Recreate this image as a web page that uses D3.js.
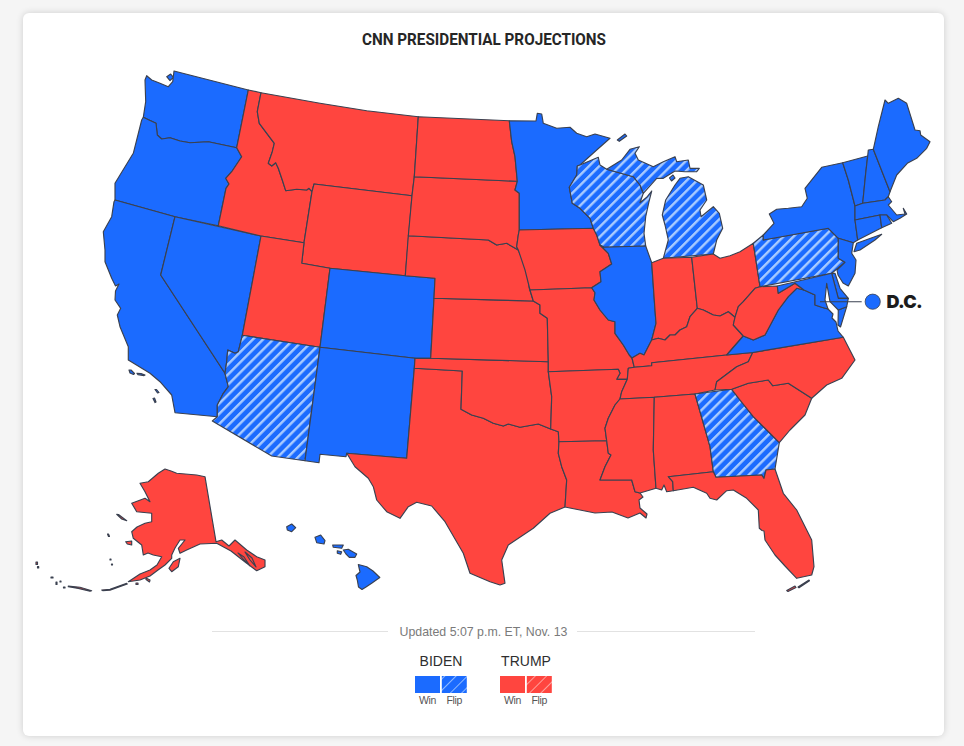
<!DOCTYPE html>
<html><head><meta charset="utf-8"><title>CNN Presidential Projections</title>
<script src="https://cdn.jsdelivr.net/npm/d3@7"></script>
<style>
html,body{margin:0;padding:0;background:#f5f5f5;width:964px;height:746px;overflow:hidden}
#card{position:absolute;left:23px;top:13px;width:921px;height:723px;background:#fff;border-radius:6px;box-shadow:0 0 7px rgba(0,0,0,.16)}
svg{position:absolute;left:0;top:0}
</style></head><body><div id="card"></div><svg id="map" width="964" height="746"></svg>
<script>
const stateNames=["WA","OR","CA","NV","ID","MT","WY","UT","AZ","CO","NM","TX","OK","KS","NE","SD","ND","MN","IA","MO","AR","LA","WI","IL","MI","IN","OH","KY","TN","MS","AL","GA","FL","SC","NC","VA","WV","PA","NY","VT","NH","ME","MA","CT","RI","NJ","DE","MD","AK","HI"];
const winners=["B","B","B","B","T","T","T","T","B","B","B","T","T","T","T","T","T","B","T","T","T","T","B","B","B","T","T","T","T","T","T","B","T","T","T","B","T","B","B","B","B","B","B","B","B","B","B","B","T","B"];
const flippedStates=["AZ","WI","MI","GA","PA"];
const outlines={
WA:[[[146.7,75.7],[145,80],[145.7,101.7],[143.3,117.3],[149,120],[156,123.3],[157.3,135],[161.7,139],[170,137.7],[180,141],[190,142.7],[208.3,141.7],[236.7,147.7],[248.3,90],[174,71],[172.7,81.7],[168.3,86.7],[160,83.3],[151.7,80]],[[166.7,76.7],[170.7,74],[173.3,77.3],[170,80.7]]],
OR:[[[143.3,117.3],[141.7,120],[133.3,153.3],[120,175],[115,183.3],[115,200],[175,216.7],[218.3,225.7],[226,188.3],[229,184],[225.7,178.3],[231.7,171.7],[241.7,156.7],[236.7,147.7],[208.3,141.7],[190,142.7],[180,141],[170,137.7],[161.7,139],[157.3,135],[156,123.3],[149,120]]],
CA:[[[115,200],[175,216.7],[160.7,275],[225,373.3],[228.3,386.7],[223.3,393.3],[217.3,405],[217.3,416.7],[175,412.7],[171.7,395],[160,381.7],[150,373.3],[128.3,360],[128.3,346.7],[120,326.7],[117.3,315],[120.7,308.3],[115,300],[115.5,291],[119,284],[115.5,286],[111.7,278.3],[105,261.7],[105,250],[103.3,231.7],[111.7,216.7],[114,201.7]],[[129,370],[131,370],[134.5,373.5],[133.5,374.5],[130,373]],[[137,373.3],[141,373.5],[145,375],[144,375.6],[138,374.6]],[[155,389.5],[156.5,389.5],[159,392.5],[157.5,393]],[[153,398.5],[154.5,398],[156,402],[155,402.6]]],
NV:[[[175,216.7],[261,236],[242.3,335.3],[238.3,351.7],[235,353.3],[227.7,350],[226.7,361.7],[225,373.3],[160.7,275]]],
ID:[[[248.3,90],[261,92.7],[257.3,111.7],[259.3,123.3],[274.3,143.3],[272.3,151.7],[268.3,163.3],[271.7,166],[275.7,162.7],[278.3,168.3],[282.3,180],[285.7,190.7],[296.7,189.3],[306.7,190],[309,188.3],[312,191.7],[304,242.7],[261,236],[218.3,225.7],[226,188.3],[229,184],[225.7,178.3],[231.7,171.7],[241.7,156.7],[236.7,147.7]]],
MT:[[[261,92.7],[320,103.3],[366.7,110.7],[418.3,116.7],[414.3,176.7],[412,195.7],[314,184],[312,191.7],[309,188.3],[306.7,190],[296.7,189.3],[285.7,190.7],[282.3,180],[278.3,168.3],[275.7,162.7],[271.7,166],[268.3,163.3],[272.3,151.7],[274.3,143.3],[259.3,123.3],[257.3,111.7]]],
WY:[[[314,184],[412,195.7],[405.3,275.7],[330,268.3],[301.7,263.3],[304,242.7],[312,191.7]]],
UT:[[[261,236],[304,242.7],[301.7,263.3],[330,268.3],[320,347.3],[242.3,335.3]]],
AZ:[[[242.3,335.3],[320,347.3],[305,460.7],[271.7,456],[212.3,421],[217.3,416.7],[217.3,405],[223.3,393.3],[228.3,386.7],[225,373.3],[226.7,361.7],[227.7,350],[235,353.3],[238.3,351.7]]],
CO:[[[330,268.3],[405.3,275.7],[435,278.3],[434,298.3],[430.7,358.3],[415,358.3],[320,347.3]]],
NM:[[[320,347.3],[415,358.3],[414.3,368.3],[406.7,458.3],[346.7,453.3],[346,456.7],[320,454.3],[319,462.7],[305,460.7]]],
TX:[[[414.3,368.3],[462.3,371],[461,409.3],[471.7,415],[483.3,418.3],[493.3,423.3],[503.3,426],[508.3,424],[520,427.3],[538.3,424],[550.7,429],[558.3,431.7],[559,441.7],[558.3,453.3],[561.7,466.7],[566.7,480],[565,507],[550,513.3],[533.3,528.3],[508.3,545],[501.7,560],[505,583.3],[500,585],[490,581.7],[470,573.3],[463.3,553.3],[445,521.7],[431.7,506],[416.7,502.3],[408.3,506.7],[400,518.3],[386.7,511.7],[376.7,500],[373.3,486.7],[368.3,478.3],[355,466.7],[346.7,453.3],[406.7,458.3]]],
OK:[[[415,358.3],[430.7,358.3],[548.3,361.7],[548.3,371.7],[551.7,396.7],[550.7,429],[538.3,424],[520,427.3],[508.3,424],[503.3,426],[493.3,423.3],[483.3,418.3],[471.7,415],[461,409.3],[462.3,371],[414.3,368.3]]],
KS:[[[434,298.3],[533.3,301],[540,305],[540,313.3],[547.3,318.3],[548.3,361.7],[430.7,358.3]]],
NE:[[[408.3,235.7],[488.3,240],[496.7,245],[506.7,243.3],[518.3,250],[524,263.3],[527.3,273.3],[529.3,288.3],[533.3,301],[434,298.3],[435,278.3],[405.3,275.7]]],
SD:[[[414.3,176.7],[517.3,181.3],[515,190],[519.3,193.3],[519.3,230],[518.3,235],[516.7,246.7],[518.3,250],[506.7,243.3],[496.7,245],[488.3,240],[408.3,235.7],[412,195.7]]],
ND:[[[418.3,116.7],[509.3,120.7],[511.7,141.7],[515,156.7],[517.3,181.3],[414.3,176.7]]],
MN:[[[509.3,120.7],[536,121],[537.3,113.3],[541.7,114],[543.3,123.3],[556.7,128.3],[570,127.3],[576.7,133.3],[586.7,136.7],[595,134],[610,138.3],[596.7,150],[580,165],[577.3,166],[576.7,175],[569.3,187.3],[572.3,203.3],[580,208.3],[590,218.3],[593.3,228.3],[519.3,230],[519.3,193.3],[515,190],[517.3,181.3],[515,156.7],[511.7,141.7]]],
IA:[[[519.3,230],[593.3,228.3],[596.7,235],[600,245],[608.3,253.3],[611.7,264],[600,271.7],[601,281.7],[591.7,287.7],[530,290],[525,270],[518.3,250],[516.7,246.7],[518.3,235]]],
MO:[[[530,290],[591.7,287.7],[595,292.7],[594,300],[600,310],[608.3,320],[615,321.7],[615,333.3],[623.3,345],[629.3,355],[632,358],[634.3,367.3],[628.3,368.3],[627.3,379.3],[616.7,379.3],[620,373.3],[618.3,369.3],[548.3,371.7],[548.3,361.7],[547.3,318.3],[540,313.3],[540,305],[533.3,301]]],
AR:[[[548.3,371.7],[618.3,369.3],[620,373.3],[616.7,379.3],[627.3,379.3],[621.7,391.7],[620,399],[615,405],[608.3,418.3],[605,428.3],[606.7,440.7],[559,441.7],[558.3,431.7],[550.7,429],[551.7,396.7]]],
LA:[[[559,441.7],[606.7,440.7],[608.3,453.3],[611,455],[605,466.7],[600,480],[631.7,480],[635,491.7],[640,493],[643,497],[639,500],[640,508],[647,514],[646,518],[640,513],[628,518],[612,512],[595,513],[580,510],[565,507],[566.7,480],[561.7,466.7],[558.3,453.3]]],
WI:[[[580,165],[598.3,157.3],[600,165],[606.7,169.3],[633.3,176.7],[640,185],[643.3,193.3],[640,202.7],[646.7,197.3],[651.7,191],[649,201.7],[645.7,216.7],[644,233.3],[645.7,246],[604,247.3],[600,245],[596.7,235],[593.3,228.3],[590,218.3],[580,208.3],[572.3,203.3],[569.3,187.3],[576.7,175],[577.3,166]]],
IL:[[[604,247.3],[645.7,246],[651.7,262.7],[655,310],[656,323.3],[651.7,340],[650,343.3],[644,355],[640,353.3],[632,358],[629.3,355],[623.3,345],[615,333.3],[615,321.7],[608.3,320],[600,310],[594,300],[595,292.7],[591.7,287.7],[601,281.7],[600,271.7],[611.7,264],[608.3,253.3],[600,245]]],
MI:[[[606.7,169.3],[621.7,160],[630,149.3],[639.3,146.7],[635,153.3],[638.3,160],[653.3,166.7],[663.3,161.7],[675,156.7],[676.7,161.7],[688.3,160],[690,168.3],[699.3,168.3],[696.7,171.7],[685,171.7],[675,171],[663.3,178.3],[656.7,178.3],[643.3,193.3],[640,185],[633.3,176.7]],[[680,178.3],[688.3,176.7],[703.3,185],[706.7,200],[700,210],[701,216.7],[713.3,206.7],[719.3,213.3],[722.7,228.3],[716.7,240],[713.3,254],[663.3,258.3],[668.3,240],[665,225],[662.3,215],[665.7,200],[675,185]],[[617.3,140],[625,134],[626.7,136],[619.3,141.3]],[[669.5,178],[673,175],[675,178],[671.5,181]]],
IN:[[[651.7,262.7],[663.3,258.3],[691.7,257.3],[697.3,308.3],[690,316.7],[686.7,326.7],[680,330],[675,335],[670,335],[665,340],[658.3,338.3],[651.7,340],[656,323.3],[655,310]]],
OH:[[[691.7,257.3],[713.3,254],[720,258.3],[730,255.7],[740,251.7],[753.3,243.3],[760,286.7],[755,288.3],[743.3,301.7],[738.3,306.7],[735,317.3],[728.3,311.7],[720,316],[713.3,315],[703.3,310],[697.3,308.3]]],
KY:[[[697.3,308.3],[703.3,310],[713.3,315],[720,316],[728.3,311.7],[735,317.3],[733.3,325],[743.3,336],[726.7,355],[651.7,362.7],[651.7,365.7],[634.3,367.3],[632,358],[640,353.3],[644,355],[650,343.3],[651.7,340],[658.3,338.3],[665,340],[670,335],[675,335],[680,330],[686.7,326.7],[690,316.7]]],
TN:[[[634.3,367.3],[651.7,365.7],[651.7,362.7],[726.7,355],[752.7,352.5],[748.3,361.7],[736.7,366.7],[730,371.7],[716.7,381.7],[715,390],[695,394],[654.3,397.3],[620,399],[621.7,391.7],[627.3,379.3],[628.3,368.3]]],
MS:[[[620,399],[654.3,397.3],[653.3,450],[656,488.3],[640,493],[635,491.7],[631.7,480],[600,480],[605,466.7],[611,455],[608.3,453.3],[606.7,440.7],[605,428.3],[608.3,418.3],[615,405]]],
AL:[[[654.3,397.3],[695,394],[710,446.7],[713.3,471.7],[668.3,476.7],[672.7,481.7],[673.3,490.7],[666.7,491.7],[664,485],[661.7,490],[656,488.3],[653.3,450]]],
GA:[[[695,394],[731.7,389.3],[740,400],[753.3,416.7],[766.7,430],[779.3,442.7],[775,469],[766,470],[764,478.3],[761.7,475],[716,477.3],[713.3,471.7],[710,446.7]]],
FL:[[[668.3,476.7],[713.3,471.7],[716,477.3],[761.7,475],[764,478.3],[766,470],[775,469],[783.3,493.3],[796.7,510],[811.7,540],[814,566.7],[811.7,575],[796.7,578.3],[785,566],[775,555],[765,540],[764,531],[762,530.5],[759.3,528.3],[758.3,510],[746.7,498.3],[733.3,490],[726.7,490.7],[716.7,500],[710,498.3],[706.7,493.3],[693.3,487.3],[673.3,490.7],[672.7,481.7]],[[786.7,590.5],[795,586],[796,587.5],[788,591.5]],[[798,587],[809,580],[809.5,580.8],[799,587.8]]],
SC:[[[731.7,389.3],[748.3,383.3],[768.3,380],[772.7,385.7],[788.3,383.3],[811.7,398.3],[805,415],[790,430],[779.3,442.7],[766.7,430],[753.3,416.7],[740,400]]],
NC:[[[843.3,337.3],[855,360],[841.7,378.3],[826.7,385],[811.7,398.3],[788.3,383.3],[772.7,385.7],[768.3,380],[748.3,383.3],[731.7,389.3],[715,390],[716.7,381.7],[730,371.7],[736.7,366.7],[748.3,361.7],[752.7,352.5]]],
VA:[[[726.7,355],[743.3,336],[753.3,340],[765,335],[778.3,310],[788.3,296.7],[796.7,288.3],[804,290],[815,295],[815,305],[821.7,307.3],[828,309],[833,314],[832,318],[836,322],[838,331],[843.3,337.3],[752.7,352.5]],[[846.7,306.7],[838.3,310],[838,325],[840.5,327]]],
WV:[[[760,286.7],[777.3,286],[778.3,293.3],[795,283.3],[804,290],[796.7,288.3],[788.3,296.7],[778.3,310],[765,335],[753.3,340],[743.3,336],[733.3,325],[735,317.3],[738.3,306.7],[743.3,301.7],[755,288.3]]],
PA:[[[753.3,243.3],[763.3,235],[763.3,240],[828.3,228.3],[838.3,238.3],[838.3,258.3],[845,262.3],[831.7,273.3],[760,286.7]]],
NY:[[[763.3,240],[763.3,235],[774,223.3],[769.3,214],[776.7,209.3],[788.3,208.3],[801.7,206.7],[807.3,198.3],[805,188.3],[821.7,167.3],[842.7,162.7],[848.3,180],[855,206],[855,220],[857.7,240],[853.3,242.7],[838.3,238.3],[828.3,228.3]],[[856.7,243.3],[881.7,234.3],[875,240],[860,250],[854,251.7]]],
VT:[[[842.7,162.7],[867.7,156],[865.7,173.3],[862.7,203.3],[855,206],[848.3,180]]],
NH:[[[868.3,150],[873.3,149.3],[890,191.7],[888.3,196.7],[885,200],[862.7,203.3],[865.7,173.3],[867.7,156]]],
ME:[[[873.3,149.3],[878.3,126.7],[885,100],[888.3,103.3],[898.3,98.3],[906.7,103.3],[915,130],[920,130.7],[920.7,135],[930,141.7],[926.7,148.3],[916.7,158.3],[907.3,163.3],[896.7,175],[890,191.7]]],
MA:[[[855,206],[862.7,203.3],[885,200],[888.3,196.7],[891.7,201.7],[888.3,205],[896.7,215],[905,214],[903.3,208.3],[906.7,214],[900,218.3],[893.3,221.7],[886.7,215],[880,215],[855,220]]],
CT:[[[855,220],[880,215],[881.7,227.7],[857.7,240]]],
RI:[[[880,215],[886.7,215],[891.7,223.3],[881.7,227.7]]],
NJ:[[[838.3,238.3],[853.3,242.7],[851.7,253.3],[856,260],[855,273.3],[848.3,286],[843,283],[838,275],[837,270],[845,262.3],[838.3,258.3]]],
DE:[[[831.7,273.3],[835,273.3],[840,288.3],[848.3,298.3],[838.3,298.3]]],
MD:[[[777.3,286],[831.7,273.3],[838.3,298.3],[848.3,298.3],[846.7,306.7],[838.3,310],[830,301.7],[826.7,283.3],[825,300],[828,309],[821.7,307.3],[815,305],[815,295],[804,290],[795,283.3],[778.3,293.3]]],
AK:[[[205,476.7],[216,541.7],[221.7,540],[229,546],[235,540],[246.7,550],[256.7,556.7],[265,560],[265,566.7],[256.7,570.7],[246.7,563.3],[238.3,556.7],[231,551],[216.7,543.3],[200,544],[186.7,550],[180,553.3],[178.3,548.3],[185,540],[180,540],[175,548],[171.7,555],[171.7,558.3],[165,565],[158,570],[150,576],[140,580],[128.3,581.7],[140,574],[150,570],[157,565],[161.7,556.7],[153.3,555],[148,553],[143.3,555],[141.7,545],[133.3,538.3],[131.7,531.7],[137,527],[145,523.3],[151.7,521.7],[151.7,513.3],[136.7,511.7],[131.7,503.3],[145,498.3],[150,501.7],[145,491.7],[140,483.3],[148.3,481.7],[158.3,473.3],[165,469],[171,471],[176.7,473.3],[196.7,475]],[[169,568.3],[173.3,561.7],[180,558.3],[178.3,566.7],[171.7,571.7]],[[125.7,541.7],[131.7,541],[131.7,545],[127.3,544]],[[116.7,514.3],[118.5,514.5],[126.7,520.7],[121.7,519]],[[238,553],[244,557],[250,566],[244,560]],[[245,552],[252,558],[256,567],[250,560]],[[68.3,586],[80,587.3],[91.7,590.7],[90,591.2],[78.3,588.4],[68.3,586.8]],[[101.7,590],[110,589.3],[126.7,583.3],[127.3,584],[110,590.3],[102.7,590.6]],[[36,562],[37.5,562],[37.5,564.5],[36,564.5]],[[37.5,566.5],[38.7,566.5],[38.7,568],[37.5,568]],[[51,577],[53,577],[53,578],[51,578]],[[56,582],[57,582],[57,584.5],[56,584.5]],[[60,581],[61,581],[61,582],[60,582]],[[63.5,587],[65,587],[65,588],[63.5,588]],[[107.5,534],[108.5,534],[109.5,536.5],[108.5,536.5]],[[110,559],[111,559],[111,560],[110,560]],[[111.5,564],[112.5,564],[112.5,565],[111.5,565]],[[136,583],[138,583],[138,584.5],[136,584.5]],[[146,578],[150,580],[149.5,582],[146,579.5]]],
HI:[[[358.3,564.5],[366.7,566.7],[373,571],[379.8,577.5],[372,583],[366,587],[362,589.5],[358.5,587],[357.3,580],[356,575.5],[360,572]],[[343.3,550],[348.3,549.3],[356.7,554],[355,557.3],[349.3,557.3],[346,554]],[[332.7,545],[343.3,545],[341.7,548.3],[333.3,547.3]],[[337.3,550.7],[341.7,551.7],[340.7,554.3],[337.3,553.3]],[[315,537.3],[320.7,535],[325,540.7],[324,544],[316.7,542.7]],[[286.7,526.7],[291.7,524],[295.7,527.7],[291.7,531.7],[287.3,530]]]
};
const dcCallout=[[820,301.7],[861.7,301.7]];
const dcPoint=[872.7,301.7];
const legendNames=["BIDEN","TRUMP"];
const legendSides=["B","T"];
const legendKinds=["Win","Flip"];
const titleText="CNN PRESIDENTIAL PROJECTIONS";
const updatedText="Updated 5:07 p.m. ET, Nov. 13";

const BLUE="#1b6bff",RED="#ff453f",STROKE="#3a4150",SANS="'Liberation Sans'";
const svg=d3.select("#map");
const defs=svg.append("defs");
function hatch(id,base,stripe,size,w){
  const p=defs.append("pattern").attr("id",id).attr("patternUnits","userSpaceOnUse")
    .attr("width",size).attr("height",size).attr("patternTransform","rotate(45)");
  p.append("rect").attr("width",size).attr("height",size).attr("fill",base);
  p.append("rect").attr("width",w).attr("height",size).attr("fill",stripe);
}
hatch("flipB",BLUE,"#a9cbff",7.2,2.4);
hatch("flipBL",BLUE,"#8fbaff",8,1);
hatch("flipTL",RED,"#ffa09b",8,1);

const features=stateNames.map((n,i)=>({type:"Feature",properties:{name:n,w:winners[i]},
  geometry:{type:"MultiPolygon",coordinates:outlines[n].map(r=>[r.concat([r[0]])])}}));
const path=d3.geoPath(d3.geoIdentity());
svg.append("g").selectAll("path").data(features).join("path")
  .attr("d",path)
  .attr("fill",d=>flippedStates.includes(d.properties.name)?"url(#flipB)":(d.properties.w==="B"?BLUE:RED))
  .attr("stroke",STROKE).attr("stroke-width",1.15).attr("stroke-linejoin","round");

svg.append("path").datum({type:"LineString",coordinates:dcCallout}).attr("d",path)
  .attr("fill","none").attr("stroke",STROKE).attr("stroke-width",1.1);
svg.append("circle").attr("cx",dcPoint[0]).attr("cy",dcPoint[1]).attr("r",7.6)
  .attr("fill",BLUE).attr("stroke",STROKE).attr("stroke-width",.8);
svg.append("text").attr("x",886.5).attr("y",308).text("D.C.")
  .attr("font-family","Inter").attr("font-weight",900).attr("font-size",18).attr("letter-spacing",-.7).attr("fill","#1c1c1c");

svg.append("text").attr("x",362).attr("y",45).text(titleText)
  .attr("textLength",244).attr("lengthAdjust","spacingAndGlyphs")
  .attr("font-family","Roboto").attr("font-weight",700).attr("font-size",16).attr("fill","#262626");

[[212,388],[577,755]].forEach(r=>svg.append("line").attr("x1",r[0]).attr("x2",r[1]).attr("y1",631.5).attr("y2",631.5).attr("stroke","#e2e2e2"));
svg.append("text").attr("x",483.5).attr("y",635.5).attr("text-anchor","middle").text(updatedText)
  .attr("font-family",SANS).attr("font-size",12.35).attr("fill","#7a7a7a");

const xGroup=d3.scaleOrdinal().domain(legendNames).range([415,500]);
legendNames.forEach((name,g)=>{
  const x0=xGroup(name);
  svg.append("text").attr("x",x0+26).attr("y",666).attr("text-anchor","middle").text(name)
    .attr("font-family",SANS).attr("font-size",14).attr("fill","#2e2e2e");
  legendKinds.forEach((k,i)=>{
    const x=x0+i*26.8;
    svg.append("rect").attr("x",x).attr("y",676).attr("width",25).attr("height",17)
      .attr("fill",k==="Win"?(legendSides[g]==="B"?BLUE:RED):(legendSides[g]==="B"?"url(#flipBL)":"url(#flipTL)"));
    svg.append("text").attr("x",x+12.5).attr("y",704).attr("text-anchor","middle").text(k)
      .attr("font-family",SANS).attr("font-size",10.5).attr("letter-spacing",-.3).attr("fill","#555");
  });
});
</script></body></html>
